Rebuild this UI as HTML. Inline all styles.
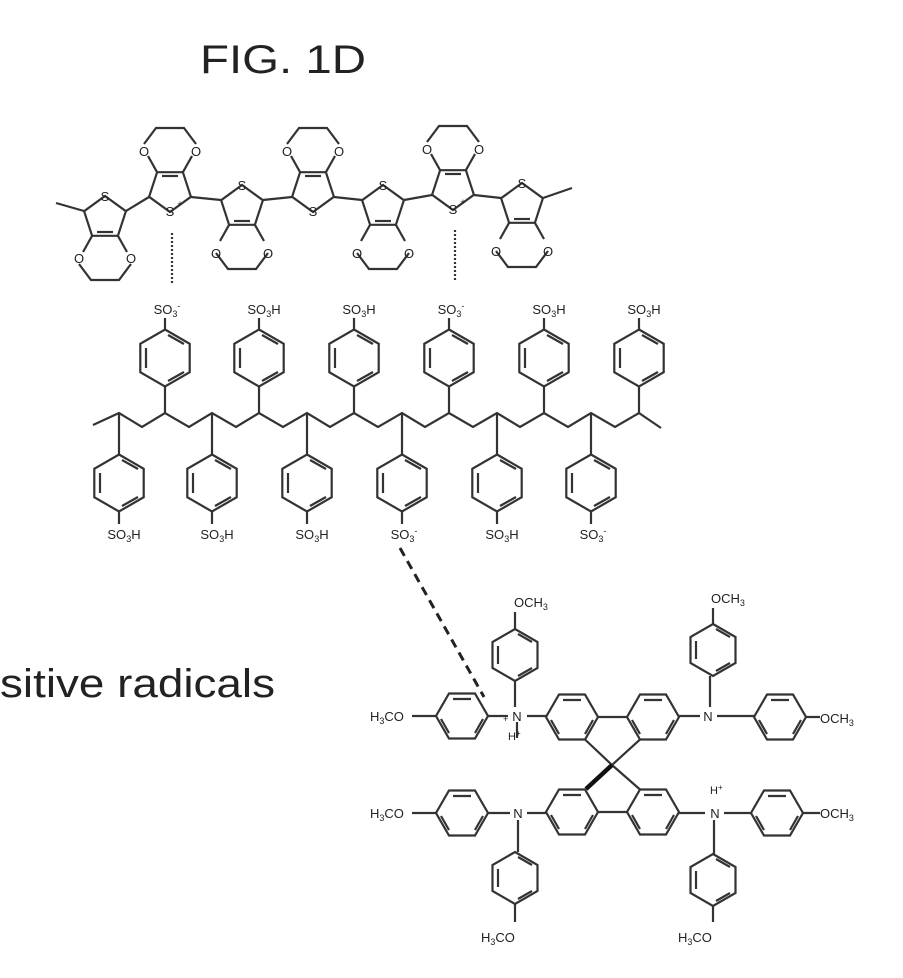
<!DOCTYPE html>
<html><head><meta charset="utf-8"><style>
html,body{margin:0;padding:0;background:#fff;}
svg{display:block;}
text{font-family:"Liberation Sans",sans-serif;fill:#222;}
.l{font-size:13px;}
</style></head><body>
<svg width="903" height="978" viewBox="0 0 903 978" xmlns="http://www.w3.org/2000/svg">
<defs>
<g id="edD" fill="none" stroke="#333" stroke-width="2.2">
<polygon points="0,-22 20.9,-6.8 12.9,17.8 -12.9,17.8 -20.9,-6.8"/>
<polyline points="12.9,17.8 22,34"/>
<polyline points="-12.9,17.8 -22,34"/>
<polyline points="26,46 14,62 -14,62 -26,46"/>
<line x1="-8" y1="14" x2="8" y2="14"/>
</g>
<g id="edU" fill="none" stroke="#333" stroke-width="2.2">
<polygon points="0,22 20.9,6.8 12.9,-17.8 -12.9,-17.8 -20.9,6.8"/>
<polyline points="12.9,-17.8 22,-34"/>
<polyline points="-12.9,-17.8 -22,-34"/>
<polyline points="26,-46 14,-62 -14,-62 -26,-46"/>
<line x1="-8" y1="-14" x2="8" y2="-14"/>
</g>
<g id="hv" fill="none" stroke="#333" stroke-width="2.2">
<polygon points="0,-28.5 24.7,-14.25 24.7,14.25 0,28.5 -24.7,14.25 -24.7,-14.25"/>
<line x1="-19" y1="-10" x2="-19" y2="10"/><line x1="3" y1="-23" x2="19" y2="-14"/><line x1="3" y1="23" x2="19" y2="14"/>
</g>
<g id="pv" fill="none" stroke="#333" stroke-width="2.2">
<polygon points="0,-26 22.5,-13 22.5,13 0,26 -22.5,13 -22.5,-13"/>
<line x1="-17" y1="-9" x2="-17" y2="9"/><line x1="3" y1="-21" x2="17" y2="-13"/><line x1="3" y1="21" x2="17" y2="13"/>
</g>
<g id="ph" fill="none" stroke="#333" stroke-width="2.2">
<polygon points="26,0 13,22.5 -13,22.5 -26,0 -13,-22.5 13,-22.5"/>
<line x1="-9" y1="-17" x2="9" y2="-17"/><line x1="-21" y1="3" x2="-13" y2="17"/><line x1="21" y1="3" x2="13" y2="17"/>
</g>
</defs>

<text x="283" y="73" font-size="40" text-anchor="middle" textLength="166" lengthAdjust="spacingAndGlyphs">FIG. 1D</text>

<!-- PEDOT -->
<use href="#edD" x="105" y="218"/>
<use href="#edU" x="170" y="190"/>
<use href="#edD" x="242" y="207"/>
<use href="#edU" x="313" y="190"/>
<use href="#edD" x="383" y="207"/>
<use href="#edU" x="453" y="188"/>
<use href="#edD" x="522" y="205"/>
<g stroke="#333" stroke-width="2.2" fill="none">
<line x1="84" y1="211" x2="56" y2="203"/>
<line x1="126" y1="211" x2="149" y2="197"/>
<line x1="191" y1="197" x2="221" y2="200"/>
<line x1="263" y1="200" x2="292" y2="197"/>
<line x1="334" y1="197" x2="362" y2="200"/>
<line x1="404" y1="200" x2="432" y2="195"/>
<line x1="474" y1="195" x2="501" y2="198"/>
<line x1="543" y1="198" x2="572" y2="188"/>
<line x1="172" y1="233" x2="172" y2="284" stroke-dasharray="2,2"/>
<line x1="455" y1="230" x2="455" y2="282" stroke-dasharray="2,2"/>
</g>
<g class="l" text-anchor="middle">
<text x="105" y="201">S</text><text x="170" y="216">S</text><text x="180" y="207" font-size="9">+</text>
<text x="242" y="190">S</text><text x="313" y="216">S</text><text x="383" y="190">S</text>
<text x="453" y="214">S</text><text x="463" y="205" font-size="9">+</text><text x="522" y="188">S</text>
<text x="79" y="263">O</text><text x="131" y="263">O</text>
<text x="144" y="156">O</text><text x="196" y="156">O</text>
<text x="216" y="258">O</text><text x="268" y="258">O</text>
<text x="287" y="156">O</text><text x="339" y="156">O</text>
<text x="357" y="258">O</text><text x="409" y="258">O</text>
<text x="427" y="154">O</text><text x="479" y="154">O</text>
<text x="496" y="256">O</text><text x="548" y="256">O</text>
</g>

<!-- PSS -->
<g stroke="#333" stroke-width="2.2" fill="none">
<polyline points="93,425 119,413 142,427 165,413 189,427 212,413 236,427 259,413 283,427 307,413 330,427 354,413 378,427 402,413 425,427 449,413 473,427 497,413 520,427 544,413 568,427 591,413 615,427 639,413 661,428"/>
<path d="M165,413V387 M259,413V387 M354,413V387 M449,413V387 M544,413V387 M639,413V387"/>
<path d="M165,330V318 M259,330V318 M354,330V318 M449,330V318 M544,330V318 M639,330V318"/>
<path d="M119,413V455 M212,413V455 M307,413V455 M402,413V455 M497,413V455 M591,413V455"/>
<path d="M119,512V524 M212,512V524 M307,512V524 M402,512V524 M497,512V524 M591,512V524"/>
</g>
<use href="#hv" x="165" y="358"/><use href="#hv" x="259" y="358"/><use href="#hv" x="354" y="358"/>
<use href="#hv" x="449" y="358"/><use href="#hv" x="544" y="358"/><use href="#hv" x="639" y="358"/>
<use href="#hv" x="119" y="483"/><use href="#hv" x="212" y="483"/><use href="#hv" x="307" y="483"/>
<use href="#hv" x="402" y="483"/><use href="#hv" x="497" y="483"/><use href="#hv" x="591" y="483"/>
<g class="l" text-anchor="middle">
<text x="167" y="314">SO<tspan font-size="9" dy="3">3</tspan><tspan font-size="9" dy="-8">-</tspan></text>
<text x="264" y="314">SO<tspan font-size="9" dy="3">3</tspan><tspan dy="-3">H</tspan></text>
<text x="359" y="314">SO<tspan font-size="9" dy="3">3</tspan><tspan dy="-3">H</tspan></text>
<text x="451" y="314">SO<tspan font-size="9" dy="3">3</tspan><tspan font-size="9" dy="-8">-</tspan></text>
<text x="549" y="314">SO<tspan font-size="9" dy="3">3</tspan><tspan dy="-3">H</tspan></text>
<text x="644" y="314">SO<tspan font-size="9" dy="3">3</tspan><tspan dy="-3">H</tspan></text>
<text x="124" y="539">SO<tspan font-size="9" dy="3">3</tspan><tspan dy="-3">H</tspan></text>
<text x="217" y="539">SO<tspan font-size="9" dy="3">3</tspan><tspan dy="-3">H</tspan></text>
<text x="312" y="539">SO<tspan font-size="9" dy="3">3</tspan><tspan dy="-3">H</tspan></text>
<text x="404" y="539">SO<tspan font-size="9" dy="3">3</tspan><tspan font-size="9" dy="-8">-</tspan></text>
<text x="502" y="539">SO<tspan font-size="9" dy="3">3</tspan><tspan dy="-3">H</tspan></text>
<text x="593" y="539">SO<tspan font-size="9" dy="3">3</tspan><tspan font-size="9" dy="-8">-</tspan></text>
</g>
<line x1="400" y1="548" x2="484" y2="697" stroke="#222" stroke-width="3" stroke-dasharray="9,6"/>

<text x="0" y="697" font-size="40" textLength="275" lengthAdjust="spacingAndGlyphs">sitive radicals</text>

<!-- Spiro-OMeTAD -->
<g stroke="#333" stroke-width="2.2" fill="none">
<path d="M488,716H508 M527,716H546 M517,722V738 M515,681V707 M515,629V612 M436,716H412"/>
<path d="M679,716H700 M717,716H754 M710,707V676 M713,624V608 M806,717H820"/>
<path d="M488,813H510 M527,813H546 M518,820V852 M515,904V922 M436,813H412"/>
<path d="M679,813H705 M724,813H751 M714,820V854 M713,906V922 M803,813H820"/>
<path d="M598,717H627 M585,739.5L612,765 M640,739.5L612,765 M598,812H627 M612,765L640,789.5"/>
</g>
<line x1="612" y1="765" x2="586" y2="789" stroke="#111" stroke-width="4.5"/>
<use href="#ph" x="462" y="716"/><use href="#pv" x="515" y="655"/>
<use href="#ph" x="572" y="717"/><use href="#ph" x="653" y="717"/>
<use href="#pv" x="713" y="650"/><use href="#ph" x="780" y="717"/>
<use href="#ph" x="462" y="813"/><use href="#pv" x="515" y="878"/>
<use href="#ph" x="572" y="812"/><use href="#ph" x="653" y="812"/>
<use href="#ph" x="777" y="813"/><use href="#pv" x="713" y="880"/>
<g class="l">
<text x="517" y="721" text-anchor="middle">N</text><text x="503" y="722" font-size="9">+</text>
<text x="508" y="740" font-size="11">H<tspan font-size="8" dy="-4">+</tspan></text>
<text x="708" y="721" text-anchor="middle">N</text>
<text x="518" y="818" text-anchor="middle">N</text>
<text x="715" y="818" text-anchor="middle">N</text>
<text x="710" y="794" font-size="11">H<tspan font-size="8" dy="-4">+</tspan></text>
<text x="370" y="721">H<tspan font-size="9" dy="3">3</tspan><tspan dy="-3">CO</tspan></text>
<text x="370" y="818">H<tspan font-size="9" dy="3">3</tspan><tspan dy="-3">CO</tspan></text>
<text x="514" y="607">OCH<tspan font-size="9" dy="3">3</tspan></text>
<text x="711" y="603">OCH<tspan font-size="9" dy="3">3</tspan></text>
<text x="820" y="723">OCH<tspan font-size="9" dy="3">3</tspan></text>
<text x="820" y="818">OCH<tspan font-size="9" dy="3">3</tspan></text>
<text x="481" y="942">H<tspan font-size="9" dy="3">3</tspan><tspan dy="-3">CO</tspan></text>
<text x="678" y="942">H<tspan font-size="9" dy="3">3</tspan><tspan dy="-3">CO</tspan></text>
</g>
</svg>
</body></html>
